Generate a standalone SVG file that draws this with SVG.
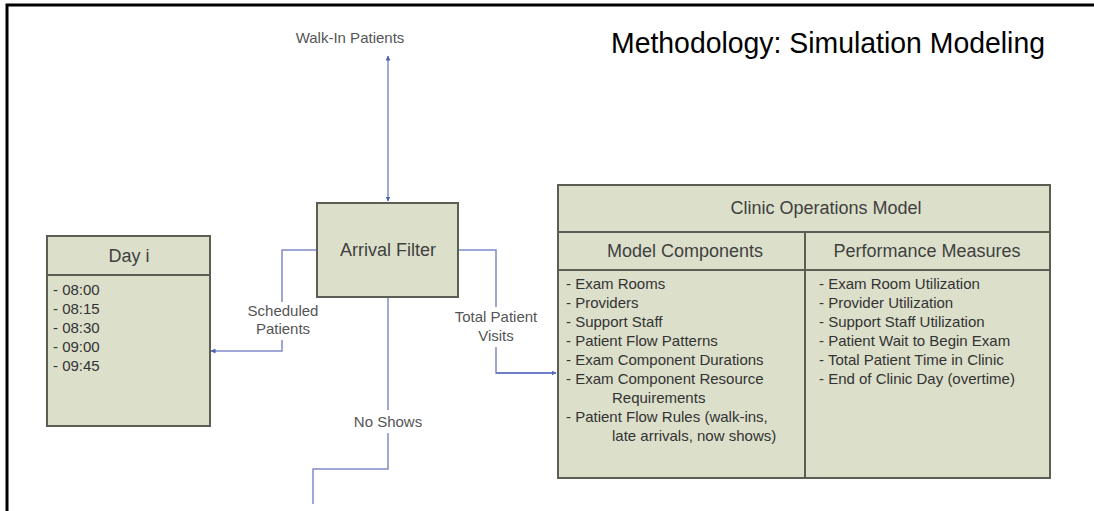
<svg xmlns="http://www.w3.org/2000/svg" width="1094" height="511" viewBox="0 0 1094 511">
<defs>
<style>
.box{fill:#dcdfca;stroke:#5c5e54;stroke-width:2}
.div{stroke:#5c5e54;stroke-width:2;fill:none}
.hdr{font-family:"Liberation Sans",Arial,sans-serif;font-size:18px;fill:#3f3f3f;text-anchor:middle}
.item{font-family:"Liberation Sans",Arial,sans-serif;font-size:15px;fill:#333}
.lbl{font-family:"Liberation Sans",Arial,sans-serif;font-size:15px;fill:#555;text-anchor:middle}
.con{fill:none;stroke:#7f8bc9;stroke-width:1.5}
.title{font-family:"Liberation Sans",Arial,sans-serif;font-size:30px;fill:#000}
</style>
<marker id="arr" viewBox="0 0 10 10" refX="9" refY="5" markerWidth="5" markerHeight="5" orient="auto-start-reverse" markerUnits="userSpaceOnUse">
<path d="M0,0 L10,5 L0,10 z" fill="#4f62b0"/>
</marker>
</defs>
<rect x="0" y="0" width="1094" height="511" fill="#ffffff"/>
<path d="M7,511 V5 H1094" fill="none" stroke="#000" stroke-width="3"/>
<text class="title" x="611" y="53" textLength="434" lengthAdjust="spacingAndGlyphs">Methodology: Simulation Modeling</text>

<g id="connectors">
<path class="con" d="M388,56 V201" stroke="#6a78c2" stroke-width="2" marker-start="url(#arr)" marker-end="url(#arr)"/>
<path class="con" d="M317,250 H282 V302"/>
<path class="con" d="M282,340 V351 H211" marker-end="url(#arr)"/>
<path class="con" d="M388,297 V410"/>
<path class="con" d="M388,433 V469 H313 V504"/>
<path class="con" d="M459,250 H496 V307"/>
<path class="con" d="M496,347 V373 H556" marker-end="url(#arr)"/>
<path d="M496,373 H556" fill="none" stroke="#5a73c0" stroke-width="1.5"/>
</g>

<g id="labels">
<text class="lbl" x="350" y="43">Walk-In Patients</text>
<text class="lbl" x="283" y="316">Scheduled</text>
<text class="lbl" x="283" y="334">Patients</text>
<text class="lbl" x="496" y="322">Total Patient</text>
<text class="lbl" x="496" y="341">Visits</text>
<text class="lbl" x="388" y="427">No Shows</text>
</g>

<g id="arrival-filter">
<rect class="box" x="317" y="203" width="141" height="94"/>
<text class="hdr" x="388" y="256">Arrival Filter</text>
</g>

<g id="day-i">
<rect class="box" x="47" y="236" width="163" height="190"/>
<line class="div" x1="47" y1="275" x2="210" y2="275"/>
<text class="hdr" x="129" y="262">Day i</text>
<text class="item" x="53" y="295">- 08:00</text>
<text class="item" x="53" y="314">- 08:15</text>
<text class="item" x="53" y="333">- 08:30</text>
<text class="item" x="53" y="352">- 09:00</text>
<text class="item" x="53" y="371">- 09:45</text>
</g>

<g id="clinic-operations-model">
<rect class="box" x="558" y="185" width="492" height="293"/>
<line class="div" x1="558" y1="232" x2="1050" y2="232"/>
<line class="div" x1="558" y1="270" x2="1050" y2="270"/>
<line class="div" x1="805" y1="232" x2="805" y2="478"/>
<text class="hdr" x="826" y="214">Clinic Operations Model</text>
<text class="hdr" x="685" y="257">Model Components</text>
<text class="hdr" x="927" y="257">Performance Measures</text>
<text class="item" x="566" y="289">- Exam Rooms</text>
<text class="item" x="566" y="308">- Providers</text>
<text class="item" x="566" y="327">- Support Staff</text>
<text class="item" x="566" y="346">- Patient Flow Patterns</text>
<text class="item" x="566" y="365">- Exam Component Durations</text>
<text class="item" x="566" y="384">- Exam Component Resource</text>
<text class="item" x="612" y="403">Requirements</text>
<text class="item" x="566" y="422">- Patient Flow Rules (walk-ins,</text>
<text class="item" x="612" y="441">late arrivals, now shows)</text>
<text class="item" x="819" y="289">- Exam Room Utilization</text>
<text class="item" x="819" y="308">- Provider Utilization</text>
<text class="item" x="819" y="327">- Support Staff Utilization</text>
<text class="item" x="819" y="346">- Patient Wait to Begin Exam</text>
<text class="item" x="819" y="365">- Total Patient Time in Clinic</text>
<text class="item" x="819" y="384">- End of Clinic Day (overtime)</text>
</g>
</svg>
